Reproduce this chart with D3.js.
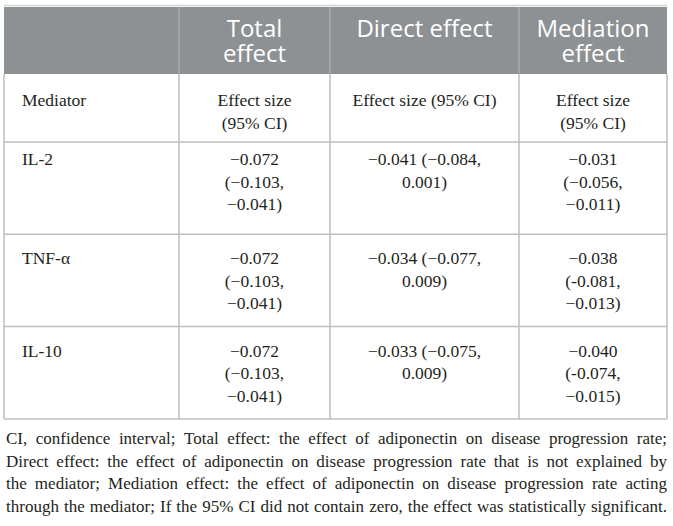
<!DOCTYPE html>
<html>
<head>
<meta charset="utf-8">
<script src="https://cdn.jsdelivr.net/npm/d3@7"></script>
<style>
  body { margin: 0; background: #fff; }
  svg { display: block; }
  .hdr { font-family: "Open Sans", sans-serif; font-size: 24px; fill: #fff; }
  .cell { font-family: "Liberation Serif", "Times New Roman", serif; font-size: 17.5px; fill: #231f20; }
  .note { font-family: "Liberation Serif", "Times New Roman", serif; font-size: 17px; fill: #231f20; }
</style>
</head>
<body>
<div id="chart"></div>
<script>
// table content
var headers = ["", "Total effect", "Direct effect", "Mediation effect"];
var subHeaders = ["Mediator", "Effect size (95% CI)", "Effect size (95% CI)", "Effect size (95% CI)"];
var mediators = ["IL-2", "TNF-\u03b1", "IL-10"];

var totalEst = ["\u22120.072", "\u22120.072", "\u22120.072"];
var totalLo  = ["\u22120.103", "\u22120.103", "\u22120.103"];
var totalHi  = ["\u22120.041", "\u22120.041", "\u22120.041"];

var directEst = ["\u22120.041", "\u22120.034", "\u22120.033"];
var directLo  = ["\u22120.084", "\u22120.077", "\u22120.075"];
var directHi  = ["0.001", "0.009", "0.009"];

var mediEst = ["\u22120.031", "\u22120.038", "\u22120.040"];
var mediLo  = ["\u22120.056", "-0.081", "-0.074"];
var mediHi  = ["\u22120.011", "\u22120.013", "\u22120.015"];

var footnote = [
  "CI, confidence interval; Total effect: the effect of adiponectin on disease progression rate;",
  "Direct effect: the effect of adiponectin on disease progression rate that is not explained by",
  "the mediator; Mediation effect: the effect of adiponectin on disease progression rate acting",
  "through the mediator; If the 95% CI did not contain zero, the effect was statistically significant."
];

var width = 673,
    height = 526;

var colEdges = [4, 179, 330, 519, 667];
var headTop = 7, headBottom = 74, subBottom = 142, bodyRowH = 92.3;

var svg = d3.select("#chart").append("svg")
    .attr("width", width)
    .attr("height", height);

// rows of cell lines
var rows = mediators.map(function(m, i) {
  return [
    [m],
    [totalEst[i], "(" + totalLo[i] + ",", totalHi[i] + ")"],
    [directEst[i] + " (" + directLo[i] + ",", directHi[i] + ")"],
    [mediEst[i], "(" + mediLo[i] + ",", mediHi[i] + ")"]
  ];
});
var subLines = [
  [subHeaders[0]],
  ["Effect size", "(95% CI)"],
  [subHeaders[2]],
  ["Effect size", "(95% CI)"]
];
var headLines = headers.map(function(h) {
  if (h === "Direct effect" || h === "") return [h];
  var k = h.indexOf(" ");
  return [h.slice(0, k), h.slice(k + 1)];
});

function colX(c) {
  return c === 0 ? colEdges[0] + 18 : (colEdges[c] + colEdges[c + 1]) / 2;
}

// header band
svg.append("line")
    .attr("x1", colEdges[0]).attr("x2", colEdges[4])
    .attr("y1", 5.5).attr("y2", 5.5)
    .attr("stroke", "#d4d4d4").attr("stroke-width", 1.5);
svg.append("rect")
    .attr("x", colEdges[0]).attr("y", headTop)
    .attr("width", colEdges[4] - colEdges[0])
    .attr("height", headBottom - headTop)
    .attr("fill", "#8d9193");

headLines.forEach(function(lines, c) {
  svg.append("text")
      .attr("class", "hdr")
      .attr("text-anchor", "middle")
      .selectAll("tspan")
      .data(lines)
      .enter().append("tspan")
      .attr("x", colX(c))
      .attr("y", function(d, j) { return 37 + j * 25; })
      .text(function(d) { return d; });
});

// body grid
var rowTops = [headBottom, subBottom];
for (var r = 0; r < rows.length; r++) rowTops.push(subBottom + (r + 1) * bodyRowH);
var tableBottom = rowTops[rowTops.length - 1];

var grid = svg.append("g")
    .attr("stroke", "#bdbdbd")
    .attr("stroke-width", 1.5)
    .attr("fill", "none");

grid.selectAll(".hline")
    .data(rowTops.slice(1))
    .enter().append("line")
    .attr("x1", colEdges[0]).attr("x2", colEdges[4])
    .attr("y1", function(d) { return d; })
    .attr("y2", function(d) { return d; });

grid.selectAll(".vline")
    .data(colEdges)
    .enter().append("line")
    .attr("x1", function(d) { return d; })
    .attr("x2", function(d) { return d; })
    .attr("y1", headBottom)
    .attr("y2", tableBottom);

// header dividers
svg.selectAll(".hdiv")
    .data(colEdges.slice(1, 4))
    .enter().append("line")
    .attr("x1", function(d) { return d; })
    .attr("x2", function(d) { return d; })
    .attr("y1", headTop).attr("y2", headBottom)
    .attr("stroke", "#a6aaac").attr("stroke-width", 1.5);

function drawRow(cells, top, first) {
  cells.forEach(function(lines, c) {
    svg.append("text")
        .attr("class", "cell")
        .attr("text-anchor", c === 0 ? "start" : "middle")
        .selectAll("tspan")
        .data(lines)
        .enter().append("tspan")
        .attr("x", colX(c))
        .attr("y", function(d, j) { return top + first + j * 22.5; })
        .text(function(d) { return d; });
  });
}

drawRow(subLines, headBottom, 32);
rows.forEach(function(cells, i) {
  drawRow(cells, rowTops[i + 1], i === 0 ? 23 : 30);
});

// justified footnote
var noteLeft = 6, noteRight = 667;
footnote.forEach(function(line, i) {
  var words = line.split(" ");
  var y = 444 + i * 22.7;
  var g = svg.append("g");
  var nodes = words.map(function(w) {
    return g.append("text").attr("class", "note").attr("y", y).text(w);
  });
  var widths = nodes.map(function(n) { return n.node().getComputedTextLength(); });
  var gap = (noteRight - noteLeft - d3.sum(widths)) / (words.length - 1);
  var x = noteLeft;
  nodes.forEach(function(n, k) {
    n.attr("x", x);
    x += widths[k] + gap;
  });
});
</script>
</body>
</html>
